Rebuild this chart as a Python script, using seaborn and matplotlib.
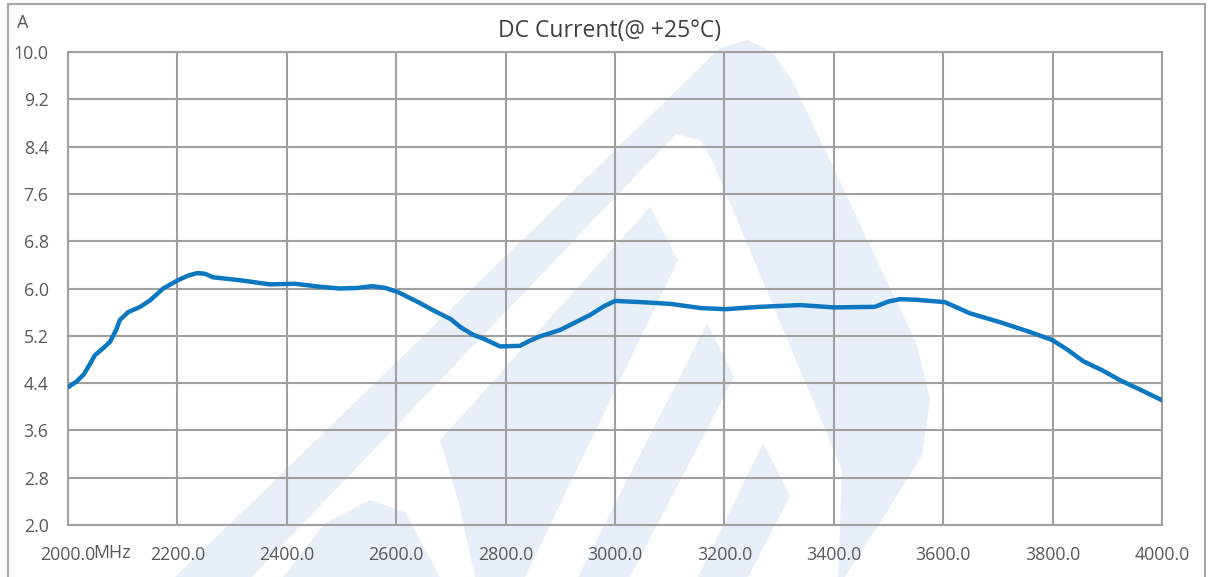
import numpy as np
import pandas as pd
import matplotlib
matplotlib.use('Agg')
import matplotlib.pyplot as plt
import seaborn as sns
from matplotlib.patches import Polygon, Rectangle

# ── Data ──────────────────────────────────────────────────
freq_mhz = [2000, 2015, 2029, 2040, 2049, 2063, 2077, 2088, 2095, 2110,
            2132, 2150, 2174, 2201, 2220, 2236, 2250, 2265, 2314, 2369,
            2415, 2460, 2497, 2530, 2556, 2580, 2603, 2640, 2670, 2700,
            2717, 2740, 2760, 2790, 2826, 2845, 2863, 2900, 2954, 2980,
            3000, 3046, 3101, 3156, 3201, 3265, 3338, 3400, 3475, 3500,
            3521, 3550, 3576, 3603, 3649, 3704, 3760, 3799, 3828, 3856,
            3890, 3923, 3960, 4000]
current_a = [4.33, 4.42, 4.55, 4.72, 4.87, 4.98, 5.10, 5.30, 5.47, 5.60,
             5.69, 5.80, 6.00, 6.14, 6.22, 6.26, 6.25, 6.19, 6.14, 6.07,
             6.08, 6.03, 6.00, 6.01, 6.04, 6.01, 5.94, 5.77, 5.62, 5.48,
             5.35, 5.22, 5.15, 5.02, 5.03, 5.12, 5.19, 5.30, 5.55, 5.70,
             5.79, 5.77, 5.74, 5.67, 5.65, 5.69, 5.72, 5.68, 5.69, 5.78,
             5.82, 5.81, 5.79, 5.77, 5.58, 5.43, 5.26, 5.13, 4.96, 4.77,
             4.62, 4.45, 4.29, 4.11]

x_ticks = np.arange(2000, 4001, 200)
y_ticks = np.round(np.arange(2.0, 10.01, 0.8), 1)

df = pd.DataFrame({'freq': freq_mhz, 'current': current_a})

# ── Figure ────────────────────────────────────────────────
sns.set_style('white')
plt.rcParams['font.family'] = ['Open Sans', 'DejaVu Sans']

W, H = 1213, 577
fig = plt.figure(figsize=(W / 100, H / 100), dpi=100)
ax = fig.add_axes([68 / W, 1 - 525 / H, (1162 - 68) / W, (525 - 52) / H])
ax.set_facecolor('none')

def px(pts):
    # pixel coords (y down) -> figure fraction
    return [(x / W, 1 - y / H) for x, y in pts]

# faint logo watermark behind the chart
wm = '#e8eff8'
outer = [(175, 577), (720, 48), (748, 40), (772, 52), (792, 80), (917, 345),
         (930, 400), (922, 455), (885, 515), (845, 577)]
hole = [(252, 577), (676, 134), (700, 140), (712, 160), (842, 470),
        (838, 577)]
stroke1 = [(650, 207), (678, 260), (525, 577), (475, 577), (458, 500),
           (440, 440)]
hump = [(283, 577), (325, 523), (370, 500), (405, 512), (440, 577)]
stroke2 = [(707, 323), (734, 377), (630, 577), (578, 577)]
stroke3 = [(763, 443), (790, 496), (748, 577), (698, 577)]
fig.add_artist(Polygon(px(outer), closed=True, transform=fig.transFigure,
                       facecolor=wm, edgecolor='none', zorder=-3))
fig.add_artist(Polygon(px(hole), closed=True, transform=fig.transFigure,
                       facecolor='white', edgecolor='none', zorder=-2))
for s in (stroke1, hump, stroke2, stroke3):
    fig.add_artist(Polygon(px(s), closed=True, transform=fig.transFigure,
                           facecolor=wm, edgecolor='none', zorder=-1))

# outer chart border
fig.add_artist(Rectangle((8 / W, -0.02), (1205 - 8) / W, 1 - 4 / H + 0.02,
                         transform=fig.transFigure, fill=False,
                         edgecolor='#a6a6a6', linewidth=1.5, zorder=5))

sns.lineplot(data=df, x='freq', y='current', ax=ax, color='#0b78c1',
             linewidth=3.2, zorder=4)

ax.set_xlim(2000, 4000)
ax.set_ylim(2.0, 10.0)
ax.set_xticks(x_ticks)
ax.set_yticks(y_ticks)
ax.set_xticklabels([f'{v:.1f}' for v in x_ticks])
ax.set_yticklabels([f'{v:.1f}' for v in y_ticks])
ax.set_xlabel('')
ax.set_ylabel('')
ax.grid(True, color='#a0a0a0', linewidth=1.5)
ax.set_axisbelow(True)
for sp in ax.spines.values():
    sp.set_visible(True)
    sp.set_color('#a0a0a0')
    sp.set_linewidth(1.5)
ax.tick_params(axis='both', length=0, labelsize=12.8, colors='#595959')
ax.tick_params(axis='x', pad=15)
ax.tick_params(axis='y', pad=14)

fig.text(610 / W, 1 - 31 / H, 'DC Current(@ +25°C)', ha='center',
         va='center', fontsize=16.5, color='#404040')
fig.text(23 / W, 1 - 23 / H, 'A', ha='center', va='center',
         fontsize=13, color='#595959')
fig.text(93 / W, 1 - 553 / H, 'MHz', ha='left', va='center',
         fontsize=12.8, color='#595959')

plt.savefig('out.png', dpi=100)
